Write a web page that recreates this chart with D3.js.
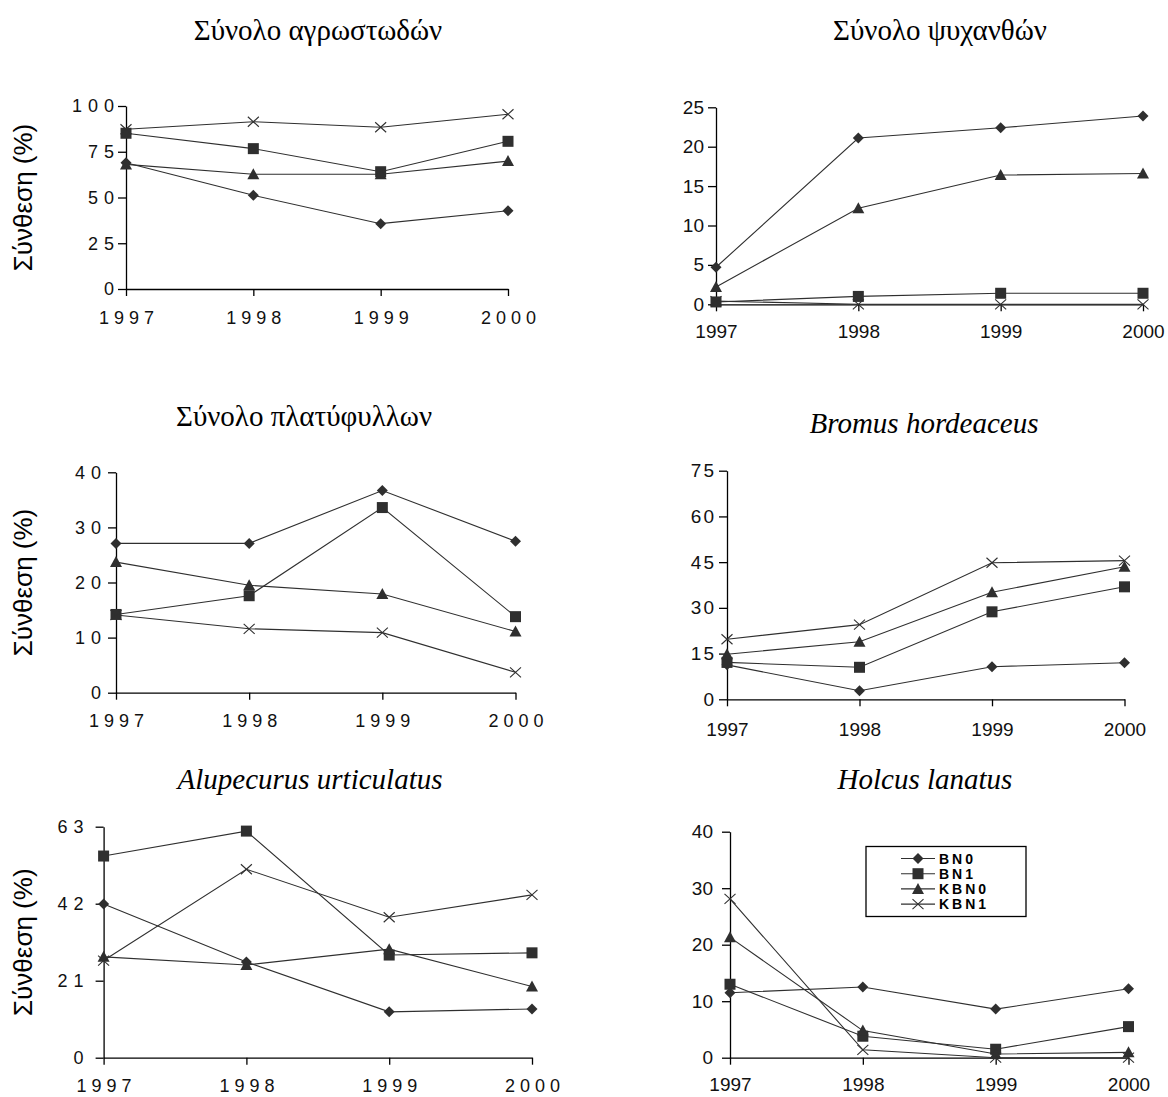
<!DOCTYPE html>
<html><head><meta charset="utf-8">
<script src="https://cdn.jsdelivr.net/npm/d3@7"></script>
<style>body{margin:0;background:#fff}</style>
</head><body>
<svg id="c" width="1168" height="1097" xmlns="http://www.w3.org/2000/svg"></svg>
<script>
// ---------- data ----------
const years = [1997, 1998, 1999, 2000];
const seriesNames = ["BN0", "BN1", "KBN0", "KBN1"];
const yAxisTitle = "Σύνθεση (%)";
const panelTitles = ["Σύνολο αγρωστωδών", "Σύνολο ψυχανθών", "Σύνολο πλατύφυλλων",
                     "Bromus hordeaceus", "Alupecurus urticulatus", "Holcus lanatus"];
// series order: BN0, BN1, KBN0, KBN1
const grassValues     = [[69.0, 51.2, 35.7, 42.8], [85.1, 76.7, 64.1, 80.7], [68.1, 62.7, 62.7, 69.9], [87.3, 91.4, 88.4, 95.5]];
const legumeValues    = [[4.7, 21.1, 22.4, 23.9], [0.3, 1.0, 1.4, 1.4], [2.2, 12.2, 16.4, 16.6], [0.4, 0, 0, 0]];
const broadleafValues = [[27.1, 27.1, 36.7, 27.5], [14.2, 17.6, 33.6, 13.8], [23.7, 19.5, 17.9, 11.1], [14.1, 11.6, 10.9, 3.7]];
const bromusValues    = [[11.3, 2.8, 10.7, 12.0], [12.1, 10.5, 28.7, 36.9], [14.8, 18.9, 35.1, 43.5], [19.7, 24.5, 44.8, 45.5]];
const alopecurusValues= [[41.9, 26.1, 12.5, 13.3], [55.0, 61.8, 28.0, 28.6], [27.5, 25.3, 29.6, 19.4], [26.5, 51.4, 38.3, 44.4]];
const holcusValues    = [[11.5, 12.5, 8.6, 12.2], [13.0, 3.8, 1.5, 5.5], [21.3, 4.8, 0.65, 0.95], [28.1, 1.4, 0, 0]];
const grassTicks     = [0, 25, 50, 75, 100];
const legumeTicks    = [0, 5, 10, 15, 20, 25];
const broadleafTicks = [0, 10, 20, 30, 40];
const bromusTicks    = [0, 15, 30, 45, 60, 75];
const alopecurusTicks= [0, 21, 42, 63];
const holcusTicks    = [0, 10, 20, 30, 40];

// ---------- layout ----------
const panels = [
  {values: grassValues, ticks: grassTicks, x0: 126, x1: 508, yB: 289, yT: 106, fs: 18, sp: 5, ysp: 6, ylab: true, tx: 318, ty: 40, italic: false, xlY: 29, yPad: 4},
  {values: legumeValues, ticks: legumeTicks, x0: 716, x1: 1143, yB: 304.3, yT: 107.3, fs: 19, sp: 0, ysp: 0, ylab: false, tx: 940, ty: 40, italic: false, xlY: 27, yPad: 4},
  {values: broadleafValues, ticks: broadleafTicks, x0: 116, x1: 515.5, yB: 692.7, yT: 472.3, fs: 18, sp: 5, ysp: 6, ylab: true, tx: 304, ty: 426, italic: false, xlY: 29, yPad: 7},
  {values: bromusValues, ticks: bromusTicks, x0: 727, x1: 1124.5, yB: 699.3, yT: 470.7, fs: 19, sp: 0, ysp: 2, ylab: false, tx: 924, ty: 433, italic: true, xlY: 30, yPad: 5},
  {values: alopecurusValues, ticks: alopecurusTicks, x0: 103.6, x1: 532, yB: 1057.7, yT: 826.7, fs: 18, sp: 5, ysp: 6, ylab: true, tx: 310, ty: 789, italic: true, xlY: 29, yPad: 12},
  {values: holcusValues, ticks: holcusTicks, x0: 730, x1: 1128.5, yB: 1057.7, yT: 831.7, fs: 19, sp: 0, ysp: 0, ylab: false, tx: 925, ty: 789, italic: true, xlY: 27, yPad: 9, legend: true}
];

const ink = "#2f2f2f";
const svg = d3.select("#c");

function marker(g, kind, x, y) {
  if (kind === 0) { // diamond
    g.append("path").attr("d", `M${x},${y-5.5}L${x+5.5},${y}L${x},${y+5.5}L${x-5.5},${y}Z`).attr("fill", ink);
  } else if (kind === 1) { // square
    g.append("rect").attr("x", x-5.5).attr("y", y-5.5).attr("width", 11).attr("height", 11).attr("fill", ink);
  } else if (kind === 2) { // triangle
    g.append("path").attr("d", `M${x},${y-6}L${x+6},${y+5}L${x-6},${y+5}Z`).attr("fill", ink);
  } else { // x
    g.append("path").attr("d", `M${x-5.5},${y-5}L${x+5.5},${y+5}M${x-5.5},${y+5}L${x+5.5},${y-5}`)
      .attr("stroke", ink).attr("stroke-width", 1.1).attr("fill", "none");
  }
}

panels.forEach((p, i) => {
  const g = svg.append("g");
  const x = d3.scalePoint().domain(years).range([p.x0, p.x1]).padding(0);
  const y = d3.scaleLinear().domain([0, d3.max(p.ticks)]).range([p.yB, p.yT]);

  // y axis
  const ya = g.append("g").attr("transform", `translate(${p.x0},0)`)
    .call(d3.axisLeft(y).tickValues(p.ticks).tickSize(8).tickSizeOuter(0).tickPadding(p.yPad));
  ya.selectAll("text").attr("font-family", "Liberation Sans, Arial, sans-serif").attr("font-size", p.fs)
    .attr("fill", "#111").attr("letter-spacing", p.ysp).attr("dx", p.ysp);
  // x axis
  const xa = g.append("g").attr("transform", `translate(0,${p.yB})`)
    .call(d3.axisBottom(x).tickSize(7).tickSizeOuter(0).tickFormat(d3.format("d")));
  xa.selectAll("text").attr("font-family", "Liberation Sans, Arial, sans-serif").attr("font-size", p.fs)
    .attr("fill", "#111").attr("letter-spacing", p.sp).attr("y", p.xlY - 7).attr("dy", "0.71em")
    .attr("dx", p.sp / 2);
  g.selectAll(".domain, .tick line").attr("stroke", "#000").attr("stroke-width", 1.3);

  // series
  const line = d3.line().x((d, j) => x(years[j])).y(d => y(d));
  p.values.forEach((vals, s) => {
    g.append("path").attr("d", line(vals)).attr("fill", "none").attr("stroke", ink).attr("stroke-width", 1.1);
    vals.forEach((v, j) => marker(g, s, x(years[j]), y(v)));
  });

  // title
  g.append("text").attr("x", p.tx).attr("y", p.ty).attr("text-anchor", "middle")
    .attr("font-family", "Liberation Serif, Times New Roman, serif").attr("font-size", 29)
    .attr("font-style", p.italic ? "italic" : "normal").attr("fill", "#000").text(panelTitles[i]);

  // y-axis title
  if (p.ylab) {
    const cy = (p.yB + p.yT) / 2;
    g.append("text").attr("transform", `translate(32,${cy}) rotate(-90)`).attr("text-anchor", "middle")
      .attr("font-family", "Liberation Sans, Arial, sans-serif").attr("font-size", 26)
      .attr("fill", "#000").text(yAxisTitle);
  }

  // legend
  if (p.legend) {
    const lg = g.append("g");
    lg.append("rect").attr("x", 866).attr("y", 846.5).attr("width", 160).attr("height", 70)
      .attr("fill", "#fff").attr("stroke", "#000").attr("stroke-width", 1.3);
    seriesNames.forEach((n, s) => {
      const ly = 858.5 + s * 15.2;
      lg.append("line").attr("x1", 901).attr("x2", 935).attr("y1", ly).attr("y2", ly)
        .attr("stroke", ink).attr("stroke-width", 1.1);
      marker(lg, s, 918, ly);
      lg.append("text").attr("x", 939).attr("y", ly + 5).attr("font-family", "Liberation Sans, Arial, sans-serif")
        .attr("font-size", 14).attr("font-weight", "bold").attr("letter-spacing", 3).attr("fill", "#000").text(n);
    });
  }
});
</script>
</body></html>
